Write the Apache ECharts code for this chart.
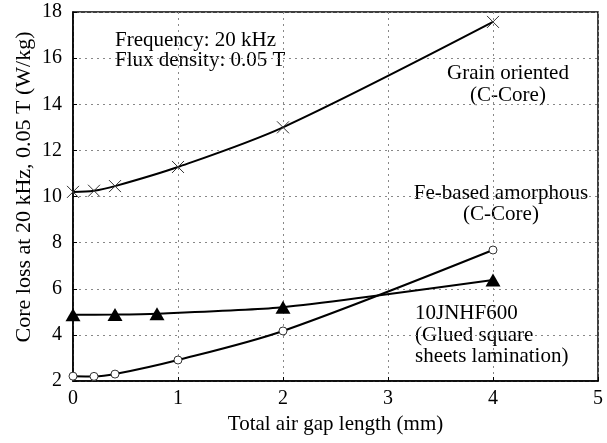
<!DOCTYPE html>
<html><head><meta charset="utf-8">
<script src="https://cdn.jsdelivr.net/npm/echarts@6/dist/echarts.min.js"></script>
<style>html,body{margin:0;padding:0;background:#fff}#c{width:607px;height:443px}</style>
</head><body><div id="c"></div>
<script>
var gapX = [0, 0.2, 0.4, 1, 2, 4];
var grainOriented = [10.2, 10.25, 10.45, 11.28, 13.0, 17.57];
var amorphous = [2.21, 2.2, 2.3, 2.91, 4.17, 7.68];
var jnhfX = [0, 0.4, 0.8, 2, 4];
var jnhf = [4.87, 4.88, 4.92, 5.2, 6.38];
var xTicks = [0, 1, 2, 3, 4, 5];
var yTicks = [2, 4, 6, 8, 10, 12, 14, 16, 18];

function pairs(xs, ys){ return xs.map(function(x,i){return [x, ys[i]];}); }
var F = 'Liberation Serif';
var chart = echarts.init(document.getElementById('c'));
var ax = {color:'#000', fontFamily:F, fontSize:20};
chart.setOption({
  animation:false,
  backgroundColor:'#fff',
  grid:{left:73, right:9, top:12, bottom:62, show:true, borderColor:'#000', borderWidth:1.5},
  xAxis:{type:'value', min:0, max:5, interval:1,
    name:'Total air gap length (mm)', nameLocation:'middle', nameGap:29,
    nameTextStyle:{color:'#000', fontFamily:F, fontSize:21},
    axisLine:{show:true, lineStyle:{color:'#000', width:1.5}},
    axisTick:{show:true, inside:true, length:4, lineStyle:{color:'#000'}},
    axisLabel:Object.assign({margin:8, formatter:function(v){return xTicks.indexOf(v)>=0?String(v):'';}}, ax),
    splitLine:{show:true, lineStyle:{color:'#888', type:[2,4], width:1}}},
  yAxis:{type:'value', min:2, max:18, interval:2,
    axisLine:{show:true, lineStyle:{color:'#000', width:1.5}},
    axisTick:{show:true, inside:true, length:4, lineStyle:{color:'#000'}},
    axisLabel:Object.assign({margin:11, formatter:function(v){return yTicks.indexOf(v)>=0?String(v):'';}}, ax),
    splitLine:{show:true, lineStyle:{color:'#888', type:[2,4], width:1}}},
  series:[
    {name:'Grain oriented (C-Core)', type:'line', smooth:0.3, data:pairs(gapX, grainOriented),
     symbol:'path://M0,0L10,10M10,0L0,10', symbolSize:12,
     itemStyle:{color:'none', borderColor:'#333', borderWidth:1},
     lineStyle:{color:'#000', width:2}},
    {name:'Fe-based amorphous (C-Core)', type:'line', smooth:0.3, data:pairs(gapX, amorphous),
     symbol:'circle', symbolSize:8,
     itemStyle:{color:'#fff', borderColor:'#333', borderWidth:1},
     lineStyle:{color:'#000', width:2}},
    {name:'10JNHF600', type:'line', smooth:0.2, data:pairs(jnhfX, jnhf),
     symbol:'triangle', symbolSize:[15,13],
     itemStyle:{color:'#000', borderColor:'#000', borderWidth:0},
     lineStyle:{color:'#000', width:2}}
  ],
  graphic:[
    {type:'text', x:24, y:187, rotation:Math.PI/2, style:{text:'Core loss at 20 kHz, 0.05 T (W/kg)', align:'center', verticalAlign:'middle', fontFamily:F, fontSize:22, fill:'#000'}},
    {type:'text', x:115, y:30, style:{text:'Frequency: 20 kHz\nFlux density: 0.05 T', fontFamily:F, fontSize:21, lineHeight:20, fill:'#000'}},
    {type:'text', x:508, y:62, style:{text:'Grain oriented\n(C-Core)', align:'center', fontFamily:F, fontSize:21, lineHeight:22, fill:'#000'}},
    {type:'text', x:501, y:183, style:{text:'Fe-based amorphous\n(C-Core)', align:'center', fontFamily:F, fontSize:21, lineHeight:21, fill:'#000'}},
    {type:'text', x:415, y:303, style:{text:'10JNHF600\n(Glued square\nsheets lamination)', fontFamily:F, fontSize:21, lineHeight:21.5, fill:'#000'}}
  ]
});
</script></body></html>
